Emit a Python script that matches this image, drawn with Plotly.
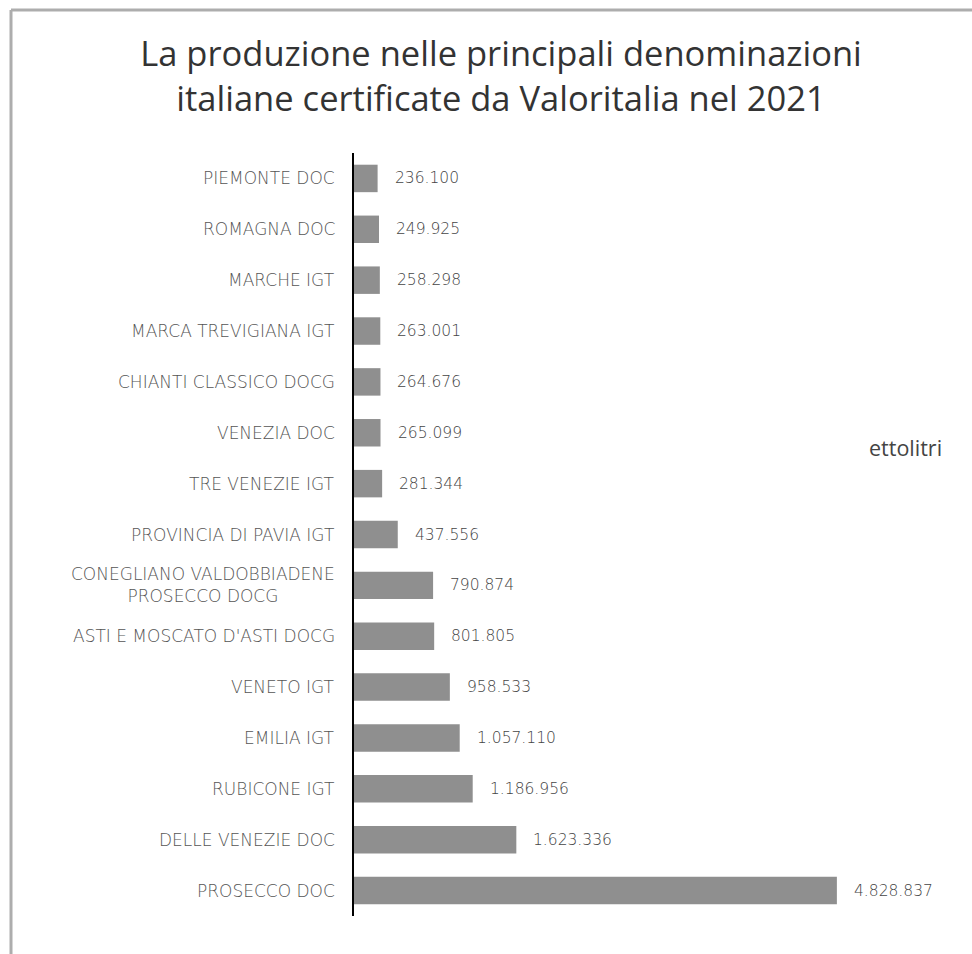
import plotly.graph_objects as go

# Denominazioni (dall'alto verso il basso) e volumi in ettolitri
denominazioni = [
    "PIEMONTE DOC",
    "ROMAGNA DOC",
    "MARCHE IGT",
    "MARCA TREVIGIANA IGT",
    "CHIANTI CLASSICO DOCG",
    "VENEZIA DOC",
    "TRE VENEZIE IGT",
    "PROVINCIA DI PAVIA IGT",
    "CONEGLIANO VALDOBBIADENE<br>PROSECCO DOCG",
    "ASTI E MOSCATO D'ASTI DOCG",
    "VENETO IGT",
    "EMILIA IGT",
    "RUBICONE IGT",
    "DELLE VENEZIE DOC",
    "PROSECCO DOC",
]
ettolitri = [
    236100, 249925, 258298, 263001, 264676, 265099, 281344, 437556,
    790874, 801805, 958533, 1057110, 1186956, 1623336, 4828837,
]
titolo = "La produzione nelle principali denominazioni<br>italiane certificate da Valoritalia nel 2021"
unita = "ettolitri"

W, H = 972, 954
ML, MR, MT, MB = 354, 18, 153, 38
PW, PH = W - ML - MR, H - MT - MB

BAR = "#8f8f8f"
TXT = "#555555"
TITLE_FONT = "'Open Sans', sans-serif"
LABEL_FONT = "'DejaVu Sans', sans-serif"


def fmt(v):
    return f"{v:,}".replace(",", ".")


def px_x(p):
    return (p - ML) / PW


def px_y(p):
    return (H - MB - p) / PH


fig = go.Figure(
    go.Bar(
        x=ettolitri,
        y=list(range(len(denominazioni))),
        orientation="h",
        marker=dict(color=BAR, line=dict(width=0)),
        width=0.54,
        hoverinfo="skip",
    )
)

annotations = []
for i, (nome, v) in enumerate(zip(denominazioni, ettolitri)):
    # etichetta della categoria, allineata a destra dell'asse
    annotations.append(dict(
        x=0, xref="paper", y=i, yref="y",
        text=nome, showarrow=False, xanchor="right", yanchor="middle",
        xshift=-17, align="center",
        font=dict(family=LABEL_FONT, size=17, color=TXT, weight=300),
    ))
    # valore a destra della barra
    annotations.append(dict(
        x=v, xref="x", y=i, yref="y",
        text=fmt(v), showarrow=False, xanchor="left", yanchor="middle",
        xshift=15,
        font=dict(family=LABEL_FONT, size=15.5, color="#444444", weight=300),
    ))

annotations.append(dict(
    x=px_x(867), xref="paper", y=px_y(447), yref="paper",
    text=unita, showarrow=False, xanchor="left", yanchor="middle",
    font=dict(family=TITLE_FONT, size=21.5, color="#444444"),
))

# cornice grigia in alto e a sinistra
shapes = [
    dict(type="line", xref="paper", yref="paper",
         x0=px_x(11), x1=px_x(W + 5), y0=px_y(10), y1=px_y(10),
         line=dict(color="#adadad", width=3)),
    dict(type="line", xref="paper", yref="paper",
         x0=px_x(11), x1=px_x(11), y0=px_y(10), y1=px_y(H + 5),
         line=dict(color="#adadad", width=3)),
]

fig.update_layout(
    width=W, height=H,
    margin=dict(l=ML, r=MR, t=MT, b=MB, pad=0),
    paper_bgcolor="white", plot_bgcolor="white",
    showlegend=False,
    title=dict(
        text=titolo, x=501 / W, xanchor="center", xref="container",
        y=1 - 66 / H, yanchor="top", yref="container",
        font=dict(family=TITLE_FONT, size=34.5, color="#333333"),
    ),
    xaxis=dict(range=[0, 6_000_000], visible=False, fixedrange=True),
    yaxis=dict(
        range=[len(denominazioni) - 0.5, -0.5],
        showticklabels=False, showgrid=False, zeroline=False, ticks="",
        showline=True, linecolor="black", linewidth=2,
    ),
    annotations=annotations,
    shapes=shapes,
)

fig.write_html("out.html")
